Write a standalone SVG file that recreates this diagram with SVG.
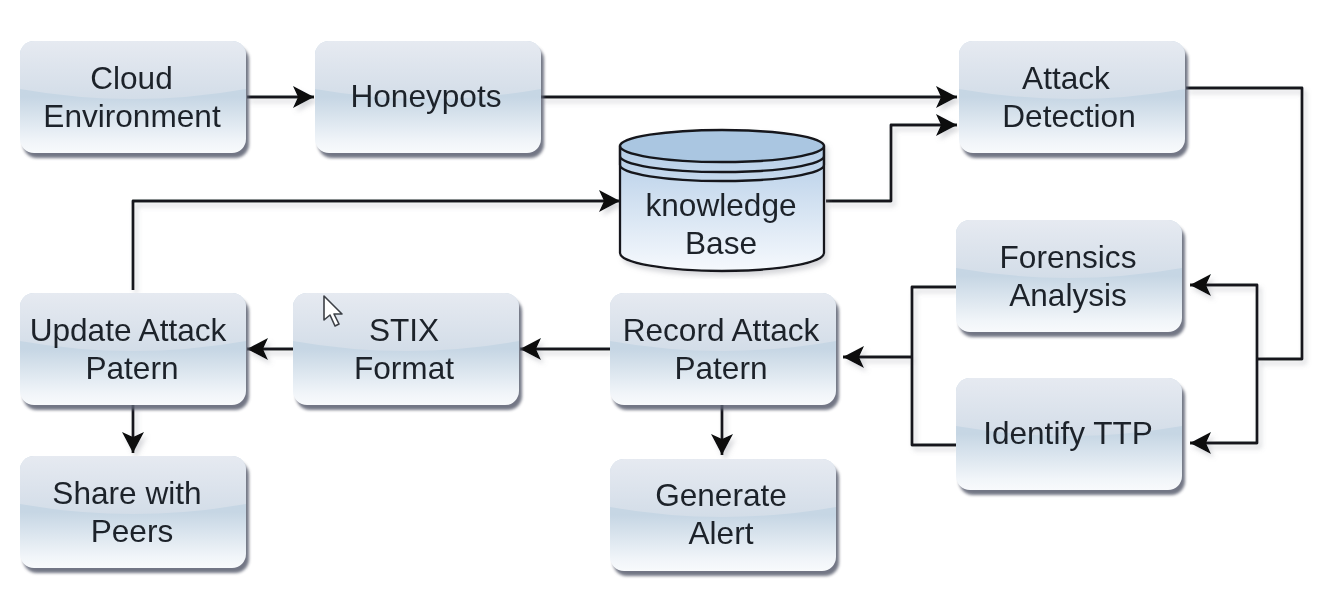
<svg xmlns="http://www.w3.org/2000/svg" width="1325" height="595" viewBox="0 0 1325 595">
<style>
text{font-family:"Liberation Sans",Arial,sans-serif;font-size:31.6px;fill:#1e2329;text-anchor:middle}
.c{fill:none;stroke:#15181b;stroke-width:2.8;stroke-linejoin:round}
.sh{fill:#5a5f70;opacity:.85;filter:url(#b)}
.base{fill:url(#g2)}
.top{fill:url(#g1)}
.cy{stroke:#15181b;stroke-width:2.3}
</style>
<defs>
<linearGradient id="g1" x1="0" y1="0" x2="0" y2="1"><stop offset="0" stop-color="#e6eaf1"/><stop offset="1" stop-color="#d3dde8"/></linearGradient>
<linearGradient id="g2" x1="0" y1="0" x2="0" y2="1"><stop offset="0" stop-color="#c8d7e4"/><stop offset=".5" stop-color="#c6d6e4"/><stop offset=".9" stop-color="#f1f5f9"/><stop offset="1" stop-color="#f8fafc"/></linearGradient>
<linearGradient id="g3" x1="0" y1="0" x2="0" y2="1"><stop offset="0" stop-color="#b4cde7"/><stop offset="1" stop-color="#f6f9fd"/></linearGradient>
<filter id="b" x="-10%" y="-10%" width="120%" height="120%"><feGaussianBlur stdDeviation="1.8"/></filter>
<filter id="soft" x="0" y="0" width="100%" height="100%"><feGaussianBlur stdDeviation=".5"/></filter>
<filter id="ls" x="-5%" y="-5%" width="110%" height="110%"><feDropShadow dx="3" dy="4" stdDeviation="2.5" flood-color="#8a8f99" flood-opacity=".35"/></filter>
<marker id="a" markerUnits="userSpaceOnUse" markerWidth="26" markerHeight="26" refX="22" refY="13" orient="auto"><path d="M1 2 L22 13 L1 24 L6 13 Z" fill="#0c0e10"/></marker>
<symbol id="box" overflow="visible">
<rect class="sh" x="3" y="5" width="226" height="112" rx="14"/>
<rect class="base" x="0" y="0" width="226" height="112" rx="14"/>
<path class="top" d="M0 48V14A14 14 0 0 1 14 0H212A14 14 0 0 1 226 14V48Q113 68 0 48Z"/>
</symbol>
</defs>
<g id="page" filter="url(#soft)">
<rect width="1325" height="595" fill="#fff"/>
<g id="connectors" filter="url(#ls)">
<path class="c" d="M247 97H314" marker-end="url(#a)"/>
<path class="c" d="M540 97H957" marker-end="url(#a)"/>
<path class="c" d="M826 201H891V125H957" marker-end="url(#a)"/>
<path class="c" d="M133 290V201H620" marker-end="url(#a)"/>
<path class="c" d="M1186 88H1302V359H1257"/>
<path class="c" d="M1257 359V285H1190" marker-end="url(#a)"/>
<path class="c" d="M1257 359V443H1190" marker-end="url(#a)"/>
<path class="c" d="M956 287H912V445H956"/>
<path class="c" d="M912 357H843" marker-end="url(#a)"/>
<path class="c" d="M610 349H520" marker-end="url(#a)"/>
<path class="c" d="M293 349H247" marker-end="url(#a)"/>
<path class="c" d="M133 405V453" marker-end="url(#a)"/>
<path class="c" d="M722 405V455" marker-end="url(#a)"/>
</g>
<g id="cloud-environment"><use href="#box" x="20" y="41"/><text x="131.5" y="89">Cloud</text><text x="132" y="127">Environment</text></g>
<g id="honeypots"><use href="#box" x="315" y="41"/><text x="426" y="107">Honeypots</text></g>
<g id="attack-detection"><use href="#box" x="959" y="41"/><text x="1066" y="89">Attack</text><text x="1069" y="127">Detection</text></g>
<g id="knowledge-base" filter="url(#ls)">
<path class="cy" fill="url(#g3)" d="M620 146V253A102 18 0 0 0 824 253V146Z"/>
<ellipse class="cy" cx="722" cy="146" rx="102" ry="16" fill="#aac6e1"/>
<path class="cy" fill="none" d="M620 146V156A102 16 0 0 0 824 156V146M620 156V165A102 16 0 0 0 824 165V156"/>
<text x="721" y="216">knowledge</text><text x="721" y="254">Base</text>
</g>
<g id="forensics-analysis"><use href="#box" x="956" y="220"/><text x="1068" y="268">Forensics</text><text x="1068" y="306">Analysis</text></g>
<g id="identify-ttp"><use href="#box" x="956" y="378"/><text x="1068" y="444">Identify TTP</text></g>
<g id="update-attack-patern"><use href="#box" x="20" y="293"/><text x="128" y="341">Update Attack</text><text x="132" y="379">Patern</text></g>
<g id="stix-format"><use href="#box" x="293" y="293"/><text x="404" y="341">STIX</text><text x="404" y="379">Format</text></g>
<g id="record-attack-patern"><use href="#box" x="610" y="293"/><text x="721" y="341">Record Attack</text><text x="721" y="379">Patern</text></g>
<g id="share-with-peers"><use href="#box" x="20" y="456"/><text x="127" y="504">Share with</text><text x="132" y="542">Peers</text></g>
<g id="generate-alert"><use href="#box" x="610" y="459"/><text x="721" y="506">Generate</text><text x="721" y="544">Alert</text></g>
<path d="M324 296V320L330 315L335 326L339 324L334 314L342 314Z" fill="#fff" stroke="#3c4046" stroke-width="1.6" stroke-linejoin="round"/>
</g>
</svg>
